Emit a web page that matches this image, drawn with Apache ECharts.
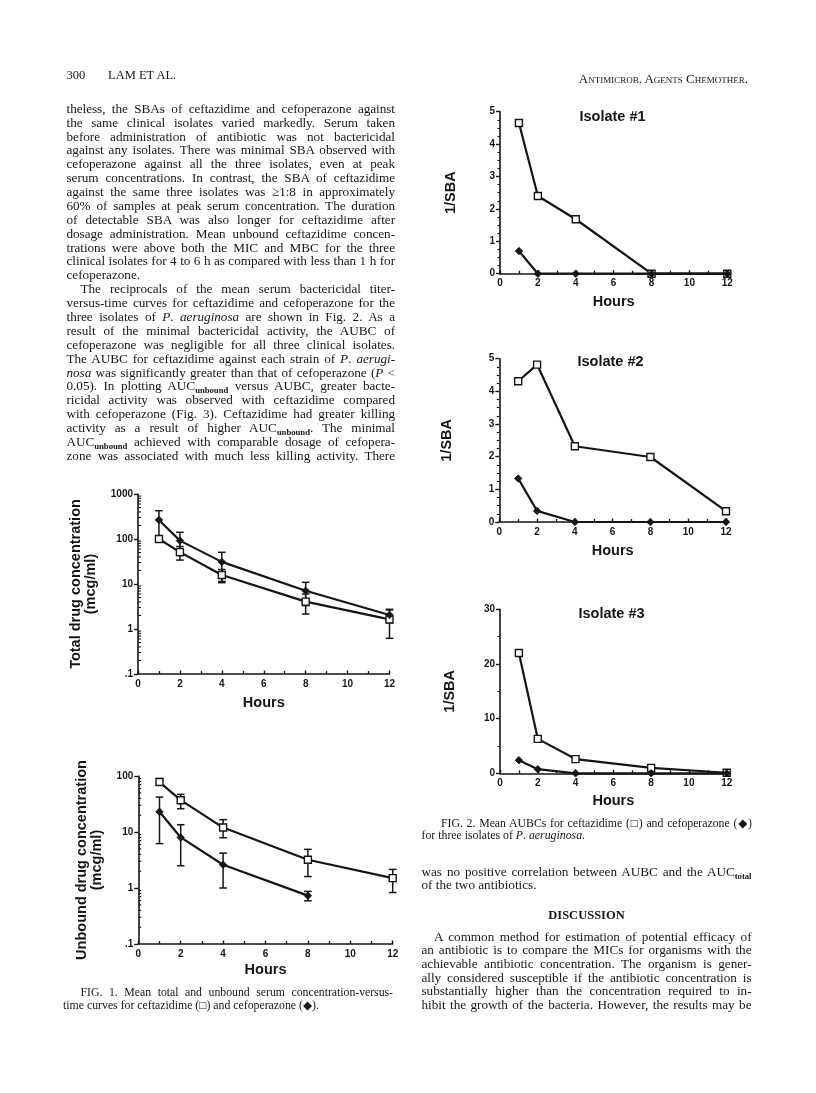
<!DOCTYPE html>
<html><head><meta charset="utf-8">
<script src="https://cdn.jsdelivr.net/npm/echarts@6/dist/echarts.min.js"></script>
<style>
html,body{margin:0;padding:0;background:#fff;}
#page{position:relative;width:816px;height:1093px;overflow:hidden;background:#fff;}
#chart{position:absolute;left:0;top:0;width:816px;height:1093px;}
.ln{position:absolute;white-space:nowrap;font-family:"Liberation Serif","DejaVu Serif",serif;color:#161616;}
.j{text-align:justify;text-align-last:justify;}
.ln sub{font-size:66%;vertical-align:-0.3em;line-height:0;font-weight:bold;}
</style></head>
<body>
<div id="page"><div id="chart"></div></div>
<script>
// ---------------- DATA ----------------
const hours = [1, 2, 4, 8, 12];
const hoursUnbCefop = [1, 2, 4, 8];

// Fig 1 top: total drug concentration (mcg/ml)
const totalCeftaz     = [100, 51, 15.8, 4.05, 1.64];
const totalCeftazLow  = [90, 34, 10.7, 2.15, 0.62];
const totalCeftazHigh = [112, 68, 21, 6.0, 2.66];
const totalCefop      = [265, 92, 31, 7.1, 2.05];
const totalCefopLow   = [105, 43, 11.4, 3.3, 1.36];
const totalCefopHigh  = [425, 141, 50.6, 10.9, 2.74];

// Fig 1 bottom: unbound drug concentration (mcg/ml)
const unbCeftaz     = [78, 37, 12, 3.2, 1.5];
const unbCeftazLow  = [70, 26, 7.9, 1.6, 0.83];
const unbCeftazHigh = [90, 47, 16.6, 4.9, 2.15];
const unbCefop      = [23, 8, 2.6, 0.73];
const unbCefopLow   = [6.2, 2.5, 1.0, 0.59];
const unbCefopHigh  = [42, 13.5, 4.2, 0.87];

// Fig 2: 1/SBA per isolate
const iso1Ceftaz = [4.65, 2.4, 1.68, 0, 0];
const iso1Cefop  = [0.7, 0, 0, 0, 0];
const iso2Ceftaz = [4.31, 4.82, 2.32, 1.99, 0.33];
const iso2Cefop  = [1.33, 0.34, 0, 0, 0];
const iso3Ceftaz = [22, 6.3, 2.6, 1.0, 0.1];
const iso3Cefop  = [2.4, 0.75, 0, 0, 0];

const isolateTitles = ['Isolate #1', 'Isolate #2', 'Isolate #3'];
const logTickLabels = {0.1: '.1', 1: '1', 10: '10', 100: '100', 1000: '1000'};

// ---------------- TEXT ----------------
const leftLines = [
 ["theless, the SBAs of ceftazidime and cefoperazone against", 1],
 ["the same clinical isolates varied markedly. Serum taken", 1],
 ["before administration of antibiotic was not bactericidal", 1],
 ["against any isolates. There was minimal SBA observed with", 1],
 ["cefoperazone against all the three isolates, even at peak", 1],
 ["serum concentrations. In contrast, the SBA of ceftazidime", 1],
 ["against the same three isolates was ≥1:8 in approximately", 1],
 ["60% of samples at peak serum concentration. The duration", 1],
 ["of detectable SBA was also longer for ceftazidime after", 1],
 ["dosage administration. Mean unbound ceftazidime concen-", 1],
 ["trations were above both the MIC and MBC for the three", 1],
 ["clinical isolates for 4 to 6 h as compared with less than 1 h for", 1],
 ["cefoperazone.", 0],
 ["The reciprocals of the mean serum bactericidal titer-", 2],
 ["versus-time curves for ceftazidime and cefoperazone for the", 1],
 ["three isolates of <i>P</i>. <i>aeruginosa</i> are shown in Fig. 2. As a", 1],
 ["result of the minimal bactericidal activity, the AUBC of", 1],
 ["cefoperazone was negligible for all three clinical isolates.", 1],
 ["The AUBC for ceftazidime against each strain of <i>P</i>. <i>aerugi-</i>", 1],
 ["<i>nosa</i> was significantly greater than that of cefoperazone (<i>P</i> &lt;", 1],
 ["0.05). In plotting AUC<sub>unbound</sub> versus AUBC, greater bacte-", 1],
 ["ricidal activity was observed with ceftazidime compared", 1],
 ["with cefoperazone (Fig. 3). Ceftazidime had greater killing", 1],
 ["activity as a result of higher AUC<sub>unbound</sub>. The minimal", 1],
 ["AUC<sub>unbound</sub> achieved with comparable dosage of cefopera-", 1],
 ["zone was associated with much less killing activity. There", 1]
];
const discussionLines = [
 ["A common method for estimation of potential efficacy of", 2],
 ["an antibiotic is to compare the MICs for organisms with the", 1],
 ["achievable antibiotic concentration. The organism is gener-", 1],
 ["ally considered susceptible if the antibiotic concentration is", 1],
 ["substantially higher than the concentration required to in-", 1],
 ["hibit the growth of the bacteria. However, the results may be", 1]
];
const fig1Caption = ["FIG. 1. Mean total and unbound serum concentration-versus-", "time curves for ceftazidime (□) and cefoperazone (◆)."];
const fig2Caption = ["FIG. 2. Mean AUBCs for ceftazidime (□) and cefoperazone (◆)", "for three isolates of <i>P</i>. <i>aeruginosa</i>."];
const rightTextLines = ["was no positive correlation between AUBC and the AUC<sub>total</sub>", "of the two antibiotics."];

const page = document.getElementById('page');
function addLine(html, x, yc, w, size, justify, extraStyle) {
  const d = document.createElement('div');
  d.className = 'ln' + (justify ? ' j' : '');
  d.style.left = x + 'px';
  d.style.top = (yc - size * 0.62) + 'px';
  if (w) d.style.width = w + 'px';
  d.style.fontSize = size + 'px';
  d.style.lineHeight = (size * 1.2) + 'px';
  if (extraStyle) Object.assign(d.style, extraStyle);
  d.innerHTML = html;
  page.appendChild(d);
  if (justify && w) {
    // shrink letter spacing if the natural line is wider than the column
    const probe = document.createElement('span');
    probe.style.whiteSpace = 'nowrap';
    probe.innerHTML = html;
    d.innerHTML = '';
    d.appendChild(probe);
    const nat = probe.getBoundingClientRect().width;
    d.innerHTML = html;
    if (nat > w - 2) {
      const n = probe.textContent.length;
      d.style.letterSpacing = ((w - 2 - nat) / n) + 'px';
    }
  }
  return d;
}
const BODY = 13.2;
const CAP = 11.8;
// header
addLine("300", 66.5, 76, null, 12.5, false);
addLine("LAM ET AL.", 108, 76, null, 12.5, false);
addLine("Antimicrob. Agents Chemother.", 500, 79, 248, 13, false, {textAlign: 'right', fontVariant: 'small-caps'});
// left column
leftLines.forEach((l, i) => {
  const y = 109 + i * 13.88;
  if (l[1] === 2) addLine(l[0], 80.5, y, 314.5, BODY, true);
  else addLine(l[0], 66.5, y, 328.5, BODY, l[1] === 1);
});
addLine(fig1Caption[0], 80.5, 992.7, 312.5, CAP, true);
addLine(fig1Caption[1], 63, 1005.3, null, CAP, false);
// right column
addLine(fig2Caption[0], 441, 823, 311, CAP, true);
addLine(fig2Caption[1], 421.5, 835.5, null, CAP, false);
addLine(rightTextLines[0], 421.5, 871.7, 330, BODY, true);
addLine(rightTextLines[1], 421.5, 885.5, null, BODY, false);
addLine("DISCUSSION", 421.5, 915.7, 330, 12.5, false, {textAlign: 'center', fontWeight: 'bold'});
discussionLines.forEach((l, i) => {
  const y = 936.7 + i * 13.72;
  if (l[1] === 2) addLine(l[0], 434, y, 317.5, BODY, true);
  else addLine(l[0], 421.5, y, 330, BODY, true);
});

// ---------------- CHART ----------------
const INK = '#151515';
const SANS = '"Liberation Sans", Arial, sans-serif';
const pairs = (xs, ys) => xs.map((x, i) => [x, ys[i]]);

const grids = [
  {left: 138, top: 494, width: 251.5, height: 180},
  {left: 138.3, top: 776, width: 254.4, height: 168},
  {left: 500, top: 111.7, width: 227.3, height: 162},
  {left: 499.3, top: 358.7, width: 226.7, height: 163.3},
  {left: 500, top: 609.3, width: 226.7, height: 164}
].map(g => Object.assign({outerBoundsMode: 'none', containLabel: false}, g));

function xAx(gi, gap) {
  return {
    gridIndex: gi, type: 'value', min: 0, max: 12, interval: 2,
    axisLine: {onZero: false, lineStyle: {color: INK, width: 1.6}},
    axisTick: {inside: true, length: 3.5, lineStyle: {color: INK, width: 1.4}},
    minorTick: {show: true, splitNumber: 2, length: 3, lineStyle: {color: INK, width: 1.3}},
    splitLine: {show: false}, minorSplitLine: {show: false},
    axisLabel: {color: INK, fontSize: 10, fontWeight: 'bold', fontFamily: SANS, margin: 5},
    name: 'Hours', nameLocation: 'middle', nameGap: gap,
    nameTextStyle: {color: INK, fontSize: 14.5, fontWeight: 'bold', fontFamily: SANS}
  };
}
function yLog(gi, min, max, name, gap) {
  return {
    gridIndex: gi, type: 'log', logBase: 10, min: min, max: max,
    axisLine: {lineStyle: {color: INK, width: 1.6}},
    axisTick: {length: 4, lineStyle: {color: INK, width: 1.4}},
    splitLine: {show: false},
    axisLabel: {color: INK, fontSize: 10, fontWeight: 'bold', fontFamily: SANS, margin: 5,
      formatter: v => { const k = Object.keys(logTickLabels).find(t => Math.abs(Math.log10(+t) - Math.log10(v)) < 1e-6); return k ? logTickLabels[k] : ''; }},
    name: name, nameLocation: 'middle', nameRotate: 90, nameGap: gap,
    nameTextStyle: {color: INK, fontSize: 14.5, fontWeight: 'bold', fontFamily: SANS, lineHeight: 15}
  };
}
function yLin(gi, max, interval, minorSplit, gap) {
  return {
    gridIndex: gi, type: 'value', min: 0, max: max, interval: interval,
    axisLine: {show: true, lineStyle: {color: INK, width: 1.6}},
    axisTick: {show: true, length: 4, lineStyle: {color: INK, width: 1.4}},
    minorTick: {show: true, splitNumber: minorSplit, length: 2.5, lineStyle: {color: INK, width: 1.1}},
    splitLine: {show: false}, minorSplitLine: {show: false},
    axisLabel: {color: INK, fontSize: 10, fontWeight: 'bold', fontFamily: SANS, margin: 5},
    name: '1/SBA', nameLocation: 'middle', nameRotate: 90, nameGap: gap,
    nameTextStyle: {color: INK, fontSize: 14.5, fontWeight: 'bold', fontFamily: SANS}
  };
}
function lineS(gi, data, kind) {
  const sq = kind === 'sq';
  return {
    type: 'line', xAxisIndex: gi, yAxisIndex: gi, data: data,
    symbol: sq ? 'rect' : 'diamond', symbolSize: sq ? 7 : 7.5,
    showAllSymbol: true, clip: false,
    lineStyle: {color: INK, width: 2.2},
    itemStyle: sq ? {color: '#fff', borderColor: INK, borderWidth: 1.4} : {color: INK, borderColor: INK, borderWidth: 0.8},
    emphasis: {disabled: true}, animation: false, z: 5
  };
}
function errS(gi, xs, lo, hi) {
  return {
    type: 'custom', xAxisIndex: gi, yAxisIndex: gi,
    data: xs.map((x, i) => [x, lo[i], hi[i]]),
    encode: {x: 0, y: [1, 2]}, z: 4, silent: true, clip: false,
    renderItem: (params, api) => {
      const x = api.value(0);
      const p1 = api.coord([x, api.value(1)]);
      const p2 = api.coord([x, api.value(2)]);
      const hw = 3.8;
      const st = {stroke: INK, lineWidth: 1.5};
      return {type: 'group', children: [
        {type: 'line', shape: {x1: p1[0], y1: p1[1], x2: p2[0], y2: p2[1]}, style: st},
        {type: 'line', shape: {x1: p1[0] - hw, y1: p1[1], x2: p1[0] + hw, y2: p1[1]}, style: st},
        {type: 'line', shape: {x1: p2[0] - hw, y1: p2[1], x2: p2[0] + hw, y2: p2[1]}, style: st}
      ]};
    }
  };
}
// log-axis minor ticks (2..9 within each decade), drawn inward from the y axis
function logMinorValues(min, max) {
  const out = [];
  for (let d = min; d < max * 0.999; d *= 10) for (let m = 2; m <= 9; m++) out.push(+(d * m).toPrecision(6));
  return out;
}
function logMinorS(gi, min, max) {
  return {
    type: 'custom', xAxisIndex: gi, yAxisIndex: gi,
    data: logMinorValues(min, max).map(v => [0, v]),
    encode: {x: 0, y: 1}, z: 6, silent: true, clip: false,
    renderItem: (params, api) => {
      const p = api.coord([0, api.value(1)]);
      return {type: 'line', shape: {x1: p[0], y1: p[1], x2: p[0] + 3, y2: p[1]}, style: {stroke: INK, lineWidth: 1.1}};
    }
  };
}
const titleStyle = (t, x, y) => ({type: 'text', x: x, y: y,
  style: {text: t, font: 'bold 14.5px ' + SANS, fill: INK, align: 'center', verticalAlign: 'middle', textAlign: 'center', textVerticalAlign: 'middle'}});

const option = {
  animation: false,
  backgroundColor: 'transparent',
  grid: grids,
  xAxis: [xAx(0, 21), xAx(1, 18), xAx(2, 21), xAx(3, 21), xAx(4, 20)],
  yAxis: [
    yLog(0, 0.1, 1000, 'Total drug concentration\n(mcg/ml)', 40),
    yLog(1, 0.1, 100, 'Unbound drug concentration\n(mcg/ml)', 34),
    yLin(2, 5, 1, 4, 42),
    yLin(3, 5, 1, 4, 45),
    yLin(4, 30, 10, 2, 43)
  ],
  series: [
    logMinorS(0, 0.1, 1000),
    logMinorS(1, 0.1, 100),
    errS(0, hours, totalCeftazLow, totalCeftazHigh),
    errS(0, hours, totalCefopLow, totalCefopHigh),
    lineS(0, pairs(hours, totalCeftaz), 'sq'),
    lineS(0, pairs(hours, totalCefop), 'di'),
    errS(1, hours, unbCeftazLow, unbCeftazHigh),
    errS(1, hoursUnbCefop, unbCefopLow, unbCefopHigh),
    lineS(1, pairs(hours, unbCeftaz), 'sq'),
    lineS(1, pairs(hoursUnbCefop, unbCefop), 'di'),
    lineS(2, pairs(hours, iso1Ceftaz), 'sq'),
    lineS(2, pairs(hours, iso1Cefop), 'di'),
    lineS(3, pairs(hours, iso2Ceftaz), 'sq'),
    lineS(3, pairs(hours, iso2Cefop), 'di'),
    lineS(4, pairs(hours, iso3Ceftaz), 'sq'),
    lineS(4, pairs(hours, iso3Cefop), 'di')
  ],
  graphic: [
    titleStyle(isolateTitles[0], 612.5, 117),
    titleStyle(isolateTitles[1], 610.5, 361.5),
    titleStyle(isolateTitles[2], 611.5, 613.5)
  ]
};
const chart = echarts.init(document.getElementById('chart'), null, {renderer: 'canvas'});
chart.setOption(option);
</script>
</body></html>
